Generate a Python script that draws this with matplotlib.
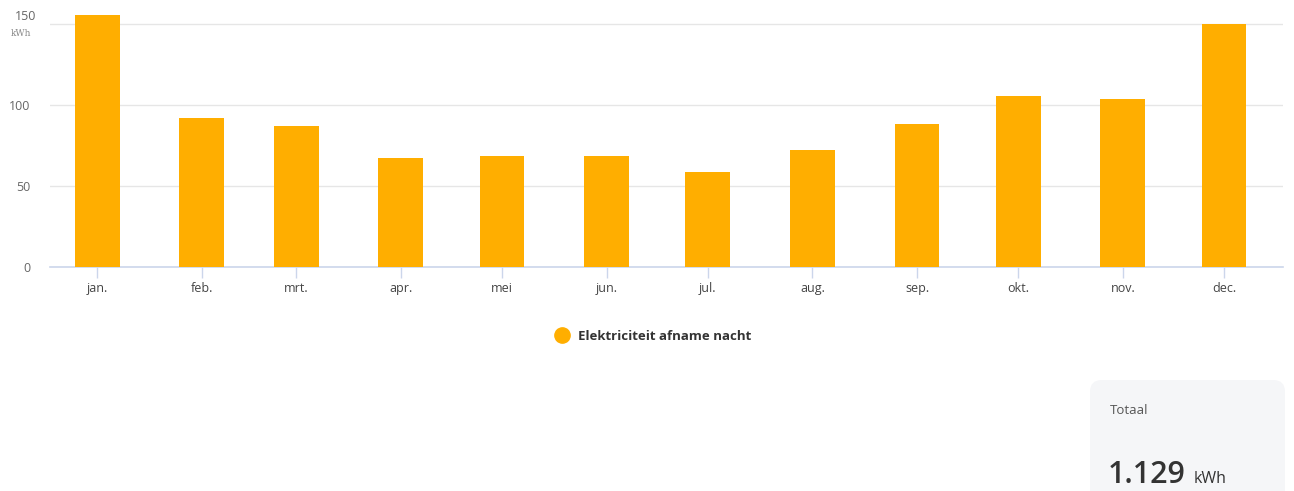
import matplotlib.pyplot as plt
from matplotlib.lines import Line2D
from matplotlib.patches import FancyBboxPatch
import numpy as np

plt.rcParams['font.family'] = ['Open Sans', 'DejaVu Sans']

# data
months = ['jan.', 'feb.', 'mrt.', 'apr.', 'mei', 'jun.', 'jul.', 'aug.', 'sep.', 'okt.', 'nov.', 'dec.']
month_start_day = [0, 31, 59, 90, 120, 151, 181, 212, 243, 273, 304, 334]
kwh = [155.6, 92.2, 87.0, 67.5, 68.8, 68.8, 58.8, 72.5, 88.5, 105.8, 103.8, 149.8]
y_ticks = [0, 50, 100, 150]
series_name = 'Elektriciteit afname nacht'
total_label = '1.129'

bar_color = '#ffae00'

fig = plt.figure(figsize=(12.94, 4.91), dpi=100)
W, H = 1294, 491
ax = fig.add_axes([50 / W, (H - 267) / H, (1283 - 50) / W, (267 - 7.8) / H])

ax.bar(month_start_day, kwh, width=13.3, color=bar_color, zorder=3)

ax.set_xlim(-14, 351.5)
ax.set_ylim(0, 160)
ax.set_yticks(y_ticks)
# top label is drawn separately, lifted above its grid line to make room for the unit
ax.set_yticklabels([str(v) for v in y_ticks[:-1]] + [''])
ax.set_xticks(month_start_day)
ax.set_xticklabels(months)

ax.grid(axis='y', color='#e6e6e6', linewidth=1, zorder=0)
for s in ['top', 'right', 'left']:
    ax.spines[s].set_visible(False)
ax.spines['bottom'].set_color('#ccd6eb')
ax.spines['bottom'].set_linewidth(1.2)
ax.tick_params(axis='y', length=0, pad=14, labelsize=9, labelcolor='#666666')
ax.tick_params(axis='x', length=8, color='#ccd6eb', width=1, pad=3, labelsize=9, labelcolor='#444444')

fig.text(36 / W, 1 - 17 / H, str(y_ticks[-1]), fontsize=9, color='#666666', va='center', ha='right')
fig.text(21 / W, 1 - 33 / H, 'kWh', fontsize=6.5, color='#888888', family='DejaVu Serif',
         va='center', ha='center')

# legend
handle = Line2D([], [], marker='o', linestyle='none', markersize=11, color=bar_color)
leg = fig.legend([handle], [series_name], loc='center', bbox_to_anchor=(650 / W, 1 - 336 / H),
                 frameon=False, handletextpad=0.2, prop={'weight': 'bold', 'size': 9.5})
for t in leg.get_texts():
    t.set_color('#333333')

# total card
card = FancyBboxPatch((1090 / W, -0.05), 195 / W, (491 - 380) / H + 0.05,
                      boxstyle='round,pad=0,rounding_size=0.009', transform=fig.transFigure,
                      facecolor='#f5f6f8', edgecolor='none', mutation_aspect=W / H)
fig.patches.append(card)
fig.text(1110 / W, 1 - 410 / H, 'Totaal', fontsize=9.5, color='#555555', va='center', ha='left')
t1 = fig.text(1108 / W, 1 - 475 / H, total_label, fontsize=22, weight='semibold', color='#333333',
              va='center', ha='left')
fig.canvas.draw()
bb = t1.get_window_extent()
fig.text((bb.x1 + 8) / W, 1 - 479 / H, 'kWh', fontsize=11.5, color='#333333', va='center', ha='left')

fig.savefig('out.png', dpi=100)
